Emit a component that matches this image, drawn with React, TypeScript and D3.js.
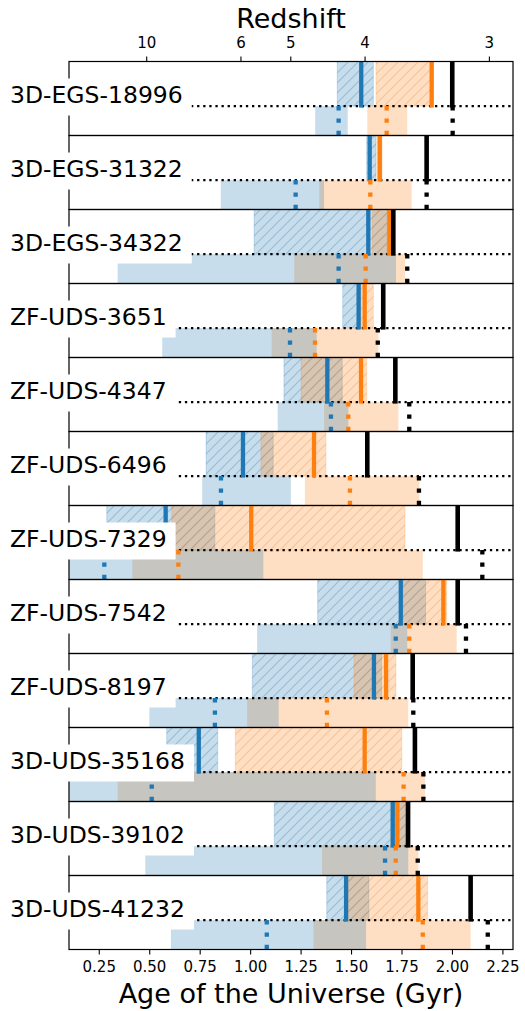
import React, { useEffect, useRef } from "react";
import * as d3 from "d3";

// ---------- data (ages in Gyr) ----------
const galaxies = [
  "3D-EGS-18996", "3D-EGS-31322", "3D-EGS-34322", "ZF-UDS-3651",
  "ZF-UDS-4347", "ZF-UDS-6496", "ZF-UDS-7329", "ZF-UDS-7542",
  "ZF-UDS-8197", "3D-UDS-35168", "3D-UDS-39102", "3D-UDS-41232",
];
// upper (hatched) ranges and medians
const blueUpper: [number, number][] = [
  [1.429, 1.608], [1.575, 1.621], [1.017, 1.674], [1.456, 1.547],
  [1.165, 1.454], [0.779, 1.112], [0.287, 0.823], [1.332, 1.867],
  [1.008, 1.649], [0.584, 0.837], [1.117, 1.770], [1.377, 1.586],
];
const blueUpperMed = [1.548, 1.590, 1.583, 1.535, 1.380, 0.962, 0.579, 1.744, 1.611, 0.743, 1.704, 1.473];
const orangeUpper: [number, number][] = [
  [1.621, 1.905], [1.626, 1.651], [1.603, 1.696], [1.537, 1.608],
  [1.250, 1.575], [1.051, 1.373], [0.609, 1.765], [1.756, 1.971],
  [1.512, 1.720], [0.924, 1.749], [1.696, 1.770], [1.484, 1.877],
];
const orangeUpperMed = [1.897, 1.640, 1.687, 1.565, 1.547, 1.314, 1.003, 1.955, 1.671, 1.565, 1.727, 1.831];
const blackUpper = [1.999, 1.872, 1.707, 1.657, 1.717, 1.578, 2.026, 2.026, 1.803, 1.814, 1.780, 2.090];
// lower (plain) ranges and medians
const blueLower: [number, number][] = [
  [1.320, 1.481], [0.852, 1.364], [0.341, 1.720], [0.562, 1.327],
  [1.134, 1.484], [0.760, 1.199], [0.050, 1.063], [1.032, 1.776],
  [0.498, 1.139], [0.050, 1.620], [0.478, 1.781], [0.605, 1.572],
];
const blueLowerMed = [1.436, 1.223, 1.436, 1.195, 1.398, 0.853, 0.275, 1.719, 0.823, 0.510, 1.666, 1.080];
const orangeLower: [number, number][] = [
  [1.578, 1.776], [1.340, 1.798], [1.216, 1.765], [1.104, 1.633],
  [1.364, 1.732], [1.269, 1.836], [0.414, 1.853], [1.694, 2.021],
  [0.983, 1.781], [0.341, 1.864], [1.354, 1.831], [1.311, 2.090],
];
const orangeLowerMed = [1.674, 1.593, 1.570, 1.319, 1.484, 1.492, 0.642, 1.786, 1.378, 1.758, 1.719, 1.853];
const blackLower = [2.001, 1.872, 1.776, 1.630, 1.786, 1.834, 2.148, 2.067, 1.806, 1.856, 1.828, 2.175];

const ageTicks = [0.25, 0.5, 0.75, 1.0, 1.25, 1.5, 1.75, 2.0, 2.25];
const zTickLabels = ["10", "6", "5", "4", "3"];
const zTickAges = [0.485, 0.952, 1.199, 1.567, 2.183];

const BLUE = "#1f77b4";
const ORANGE = "#ff7f0e";
const FONT = "DejaVu Sans, Verdana, sans-serif";

export default function App() {
  const ref = useRef<SVGSVGElement | null>(null);

  useEffect(() => {
    const svg = d3.select(ref.current);
    svg.selectAll("*").remove();

    const x = d3.scaleLinear().domain([0.1, 2.3]).range([69, 513]);
    const top0 = 61.5;
    const panelH = 74;
    const midOff = 44.6;
    const clampX = (v: number) => x(Math.max(0.1, Math.min(2.3, v)));

    const defs = svg.append("defs");
    const mkHatch = (id: string, col: string) => {
      const s = 10;
      const p = defs.append("pattern").attr("id", id)
        .attr("patternUnits", "userSpaceOnUse")
        .attr("width", s).attr("height", s);
      p.append("path")
        .attr("d", `M0,${s} L${s},0 M${-s / 2},${s / 2} L${s / 2},${-s / 2} M${s / 2},${s * 1.5} L${s * 1.5},${s / 2}`)
        .attr("stroke", col).attr("stroke-opacity", 0.3)
        .attr("stroke-width", 1.2).attr("fill", "none");
    };
    mkHatch("hatchBlue", BLUE);
    mkHatch("hatchOrange", ORANGE);

    galaxies.forEach((name, i) => {
      const top = top0 + i * panelH;
      const mid = top + midOff;
      const bot = top + panelH;
      const g = svg.append("g");

      const band = (r: [number, number], y0: number, y1: number, col: string, hatch: string | null) => {
        const xa = clampX(r[0]);
        const xb = clampX(r[1]);
        g.append("rect").attr("x", xa).attr("y", y0).attr("width", xb - xa).attr("height", y1 - y0)
          .attr("fill", col).attr("fill-opacity", 0.25)
          .attr("stroke", hatch ? col : "none").attr("stroke-opacity", 0.2).attr("stroke-width", 1);
        if (hatch) {
          g.append("rect").attr("x", xa).attr("y", y0).attr("width", xb - xa).attr("height", y1 - y0)
            .attr("fill", `url(#${hatch})`);
        }
      };
      band(blueUpper[i], top, mid, BLUE, "hatchBlue");
      band(orangeUpper[i], top, mid, ORANGE, "hatchOrange");
      band(orangeLower[i], mid, bot, ORANGE, null);
      band(blueLower[i], mid, bot, BLUE, null);

      // horizontal dotted line
      g.append("line").attr("x1", 69).attr("x2", 513).attr("y1", mid).attr("y2", mid)
        .attr("stroke", "#000").attr("stroke-width", 2.2).attr("stroke-dasharray", "2.3 3.8");

      const vSolid = (v: number, col: string, w: number) => {
        g.append("line").attr("x1", x(v)).attr("x2", x(v)).attr("y1", top).attr("y2", mid + 1.5)
          .attr("stroke", col).attr("stroke-width", w);
      };
      const vDot = (v: number, col: string) => {
        g.append("line").attr("x1", x(v)).attr("x2", x(v)).attr("y1", mid).attr("y2", bot)
          .attr("stroke", col).attr("stroke-width", 4.3).attr("stroke-dasharray", "4.3 8");
      };
      vSolid(blueUpperMed[i], BLUE, 4.3);
      vSolid(orangeUpperMed[i], ORANGE, 4.3);
      vSolid(blackUpper[i], "#000", 4.6);
      vDot(blueLowerMed[i], BLUE);
      vDot(orangeLowerMed[i], ORANGE);
      vDot(blackLower[i], "#000");

      g.append("rect").attr("x", 69).attr("y", top).attr("width", 444).attr("height", panelH)
        .attr("fill", "none").attr("stroke", "#000").attr("stroke-width", 1.2);
    });

    // label boxes on top
    galaxies.forEach((name, i) => {
      const top = top0 + i * panelH;
      const lg = svg.append("g");
      const rect = lg.append("rect").attr("x", 2).attr("y", top + 17).attr("height", 37).attr("fill", "#fff");
      const t = lg.append("text").attr("x", 10).attr("y", top + 41.4)
        .attr("font-family", FONT).attr("font-size", 23.5).attr("fill", "#000").text(name);
      const w = (t.node() as SVGTextElement).getComputedTextLength();
      rect.attr("width", 10 + w + 9 - 2);
    });

    // top (redshift) axis
    const bottomY = top0 + 12 * panelH;
    const topAx = svg.append("g");
    zTickAges.forEach((a, k) => {
      topAx.append("line").attr("x1", x(a)).attr("x2", x(a)).attr("y1", top0).attr("y2", top0 - 5)
        .attr("stroke", "#000").attr("stroke-width", 1.1);
      topAx.append("text").attr("x", x(a)).attr("y", 47.7).attr("text-anchor", "middle")
        .attr("font-family", FONT).attr("font-size", 15).text(zTickLabels[k]);
    });
    topAx.append("text").attr("x", 291).attr("y", 28).attr("text-anchor", "middle")
      .attr("font-family", FONT).attr("font-size", 27).text("Redshift");

    // bottom axis
    const botAx = svg.append("g");
    const fmt = d3.format(".2f");
    ageTicks.forEach((a) => {
      botAx.append("line").attr("x1", x(a)).attr("x2", x(a)).attr("y1", bottomY).attr("y2", bottomY + 5)
        .attr("stroke", "#000").attr("stroke-width", 1.1);
      botAx.append("text").attr("x", x(a)).attr("y", 972).attr("text-anchor", "middle")
        .attr("font-family", FONT).attr("font-size", 15).text(fmt(a));
    });
    botAx.append("text").attr("x", 291).attr("y", 1002.5).attr("text-anchor", "middle")
      .attr("font-family", FONT).attr("font-size", 27).text("Age of the Universe (Gyr)");
  }, []);

  return (
    <svg ref={ref} width={525} height={1011}
      style={{ position: "absolute", left: 0, top: 0, background: "#fff" }} />
  );
}
